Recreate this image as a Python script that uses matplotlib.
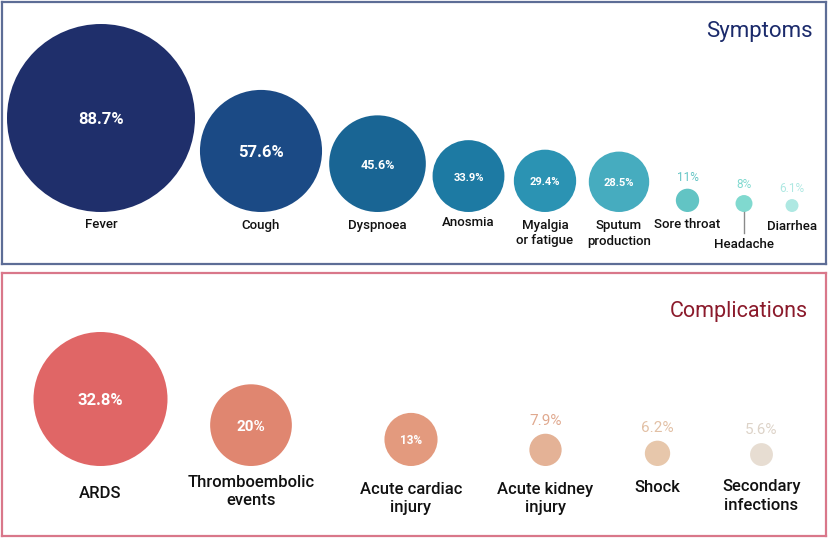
import matplotlib
matplotlib.use("Agg")
import matplotlib.pyplot as plt
from matplotlib.patches import Circle

plt.rcParams['font.family'] = ['Roboto', 'DejaVu Sans']

# data
symptoms = ["Fever", "Cough", "Dyspnoea", "Anosmia", "Myalgia\nor fatigue",
            "Sputum\nproduction", "Sore throat", "Headache", "Diarrhea"]
symptom_pct = [88.7, 57.6, 45.6, 33.9, 29.4, 28.5, 11, 8, 6.1]
symptom_lbl = ["88.7%", "57.6%", "45.6%", "33.9%", "29.4%", "28.5%", "11%", "8%", "6.1%"]

complications = ["ARDS", "Thromboembolic\nevents", "Acute cardiac\ninjury",
                 "Acute kidney\ninjury", "Shock", "Secondary\ninfections"]
complication_pct = [32.8, 20, 13, 7.9, 6.2, 5.6]
complication_lbl = ["32.8%", "20%", "13%", "7.9%", "6.2%", "5.6%"]

# layout / style (pixel space, y down)
W, H = 829, 538
sym_x = [101, 261, 377.5, 468.5, 545, 619, 687.5, 744, 792]
sym_label_y = [225, 225, 225, 223, 233, 233.5, 224, 245, 226]
sym_val_size = [12, 12, 9, 8, 8, 8, 8.5, 8.5, 8.5]
sym_colors = ["#1f2f6b", "#1b4a85", "#196594", "#1d7aa3", "#2b93b3",
              "#46acbf", "#62c4c4", "#80d9cf", "#aee8e2"]
comp_x = [100.5, 251, 411, 545.5, 657.5, 761.5]
comp_label_y = [493, 491.5, 498.5, 498.5, 487, 496]
comp_val_size = [12, 11, 8.5, 11, 11, 11]
comp_colors = ["#e06666", "#e08670", "#e39a7e", "#e4b296", "#e7c7ab", "#e7ddd2"]
comp_text_out = ["#e06666", "#e08670", "#e39a7e", "#e0a98f", "#e2c0a5", "#ddd3c8"]

fig = plt.figure(figsize=(W / 100, H / 100), dpi=100)


def make_panel(x0, y0, x1, y1, edge):
    ax = fig.add_axes([x0 / W, 1 - y1 / H, (x1 - x0) / W, (y1 - y0) / H])
    ax.set_xlim(x0, x1)
    ax.set_ylim(y1, y0)
    ax.set_xticks([])
    ax.set_yticks([])
    for s in ax.spines.values():
        s.set_color(edge)
        s.set_linewidth(1.6)
    return ax


def draw_bubbles(ax, xs, pcts, texts, names, name_y, colors, out_colors,
                 val_sizes, scale, base, inside_min, name_size, out_gap):
    for i, (cx, p) in enumerate(zip(xs, pcts)):
        r = p * scale
        cy = base - r
        ax.add_patch(Circle((cx, cy), r, facecolor=colors[i], edgecolor="none"))
        if p >= inside_min:
            ax.text(cx, cy + 1.5, texts[i], ha="center", va="center",
                    color="white", fontsize=val_sizes[i], fontweight="bold")
        else:
            ax.text(cx, cy - r - out_gap, texts[i], ha="center", va="center",
                    color=out_colors[i], fontsize=val_sizes[i])
        ax.text(cx, name_y[i], names[i], ha="center", va="center",
                fontsize=name_size, color="#111111", linespacing=1.25,
                fontweight="medium")


# Symptoms panel
ax1 = make_panel(2, 2, 826, 264, "#5d6d96")
draw_bubbles(ax1, sym_x, symptom_pct, symptom_lbl, symptoms, sym_label_y,
             sym_colors, sym_colors, sym_val_size, 94 / 88.7, 212, 20, 9.5, 11)
hx = sym_x[symptoms.index("Headache")]
ax1.plot([hx, hx], [212, 233], color="#8a8a8a", lw=1)
ax1.text(813, 31, "Symptoms", ha="right", va="center", fontsize=16,
         color="#1b2a6b")

# Complications panel
ax2 = make_panel(2, 273, 826, 536, "#d9778a")
draw_bubbles(ax2, comp_x, complication_pct, complication_lbl, complications,
             comp_label_y, comp_colors, comp_text_out, comp_val_size,
             67 / 32.8, 466, 10, 12, 13)
ax2.text(808, 312, "Complications", ha="right", va="center", fontsize=15.5,
         color="#8b1a2b")

fig.savefig("out.png", dpi=100)
